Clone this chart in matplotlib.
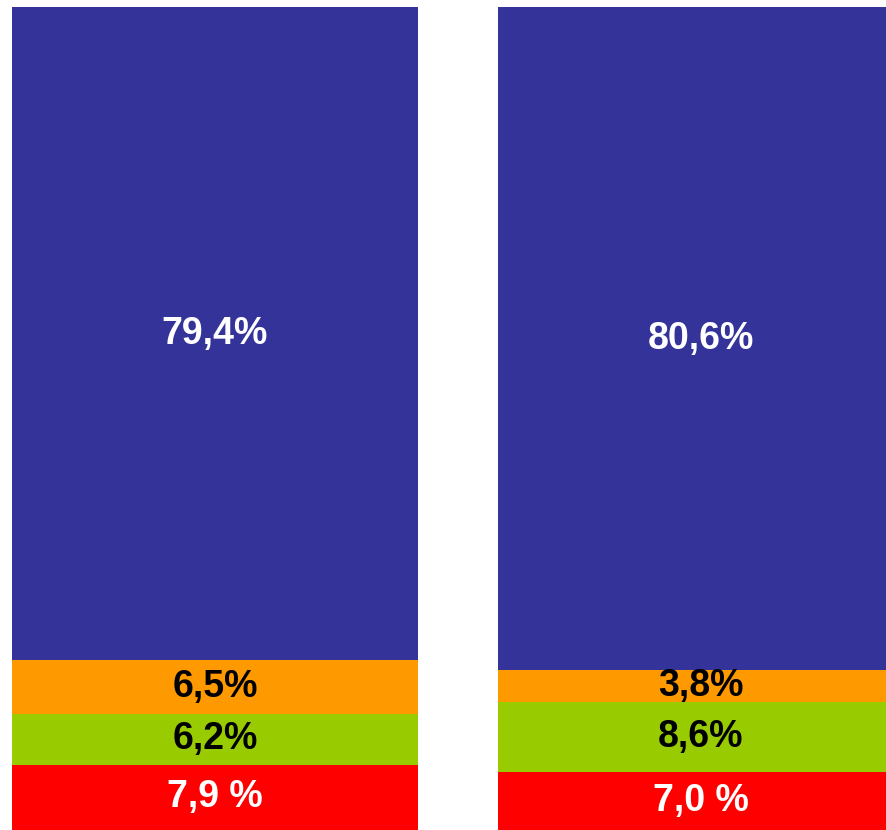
import matplotlib
matplotlib.use("Agg")
import matplotlib.pyplot as plt

# Stacked shares per column (bottom to top)
columns = ["A", "B"]
segments = ["red", "green", "orange", "blue"]
red_vals = [7.9, 7.0]
green_vals = [6.2, 8.6]
orange_vals = [6.5, 3.8]
blue_vals = [79.4, 80.6]
red_labels = ["7,9 %", "7,0 %"]
green_labels = ["6,2%", "8,6%"]
orange_labels = ["6,5%", "3,8%"]
blue_labels = ["79,4%", "80,6%"]

colors = {"red": "#FF0000", "green": "#99CC00", "orange": "#FF9900", "blue": "#333399"}
text_colors = {"red": "white", "green": "black", "orange": "black", "blue": "white"}

series = [
    ("red", red_vals, red_labels),
    ("green", green_vals, green_labels),
    ("orange", orange_vals, orange_labels),
    ("blue", blue_vals, blue_labels),
]

W, H = 886, 830
fig = plt.figure(figsize=(W / 100, H / 100), dpi=100)
ax = fig.add_axes([0, 0, 1, 1])
ax.set_axis_off()

spacing_px = 486.0
first_center_px = 215.0
ax.set_xlim(-first_center_px / spacing_px, (W - first_center_px) / spacing_px)
ax.set_ylim(0, H / 823.0 * 100)

xs = list(range(len(columns)))
bar_width = 406.0 / spacing_px
bottoms = [0.0] * len(columns)
for name, vals, labels in series:
    ax.bar(xs, vals, width=bar_width, bottom=bottoms, color=colors[name],
           linewidth=0)
    for i, (v, lab) in enumerate(zip(vals, labels)):
        ax.text(xs[i], bottoms[i] + v / 2, lab, ha="center", va="center",
                fontsize=27, fontweight="bold", family="Liberation Sans",
                color=text_colors[name])
    bottoms = [b + v for b, v in zip(bottoms, vals)]

fig.savefig("out.png", dpi=100)
